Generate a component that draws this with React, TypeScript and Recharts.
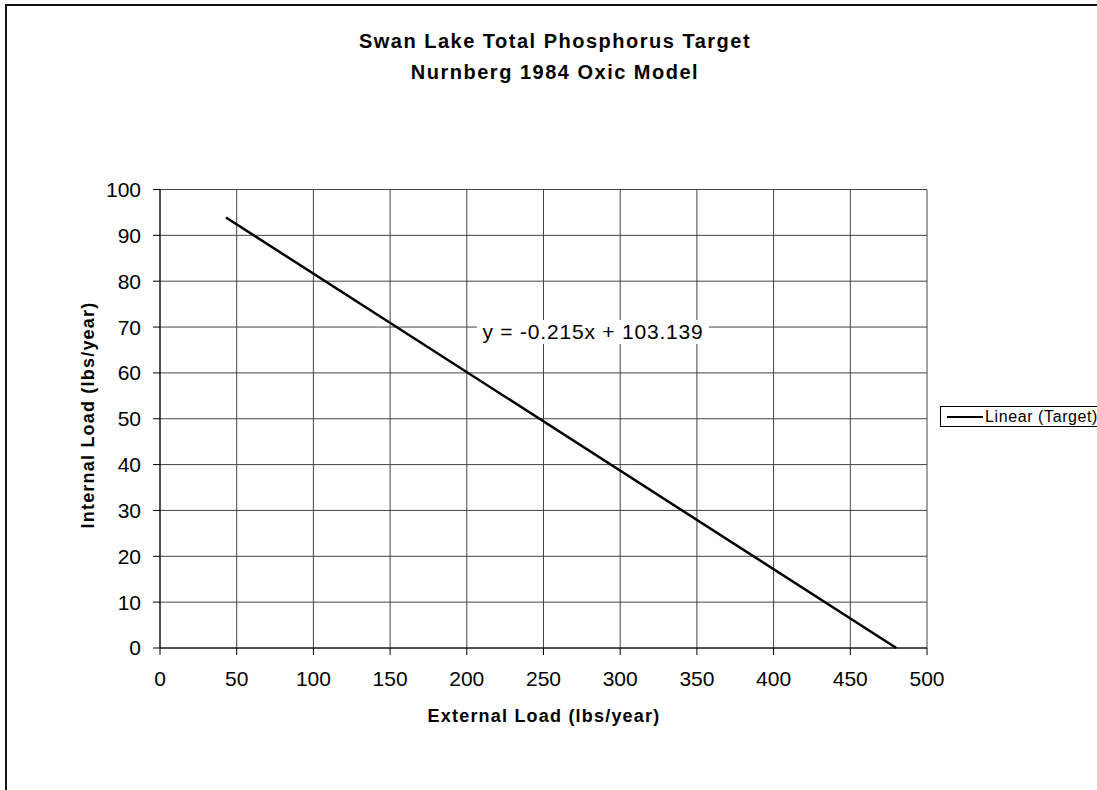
import { LineChart, Line, XAxis, YAxis, CartesianGrid } from "recharts";

const externalLoad = [43, 480];
const internalLoad = [93.9, 0];
const xTicks = [0, 50, 100, 150, 200, 250, 300, 350, 400, 450, 500];
const yTicks = [0, 10, 20, 30, 40, 50, 60, 70, 80, 90, 100];

const TITLE = ["Swan Lake Total Phosphorus Target", "Nurnberg 1984 Oxic Model"];
const EQUATION = "y = -0.215x + 103.139";
const SERIES_NAME = "Linear (Target)";

const data = externalLoad.map((x, i) => ({ x, y: internalLoad[i] }));

const FONT = "'Liberation Sans', Arial, sans-serif";

const App = () => {
    return (
        <div
            style={{
                position: "absolute",
                left: 0,
                top: 0,
                width: 1097,
                height: 790,
                overflow: "hidden",
                background: "#fff",
                fontFamily: FONT,
            }}
        >
            <div
                style={{
                    position: "absolute",
                    left: 5,
                    top: 4,
                    width: 1090,
                    height: 800,
                    borderTop: "2px solid #111",
                    borderLeft: "2px solid #111",
                }}
            />
            <LineChart
                width={1097}
                height={790}
                data={data}
                margin={{ top: 189.5, right: 170, bottom: 112, left: 100 }}
            >
                <CartesianGrid stroke="#444" strokeWidth={1} />
                <XAxis
                    dataKey="x"
                    type="number"
                    domain={[0, 500]}
                    ticks={xTicks}
                    height={30}
                    stroke="#000"
                    tickSize={7}
                    tickMargin={16}
                    tick={{ fill: "#000", fontSize: 21, fontFamily: FONT }}
                    interval={0}
                />
                <YAxis
                    type="number"
                    domain={[0, 100]}
                    ticks={yTicks}
                    width={60}
                    stroke="#000"
                    tickSize={7}
                    tickMargin={12}
                    tick={{ fill: "#000", fontSize: 21, fontFamily: FONT }}
                    interval={0}
                />
                <Line
                    dataKey="y"
                    type="linear"
                    stroke="#000"
                    strokeWidth={2.5}
                    dot={false}
                    isAnimationActive={false}
                />
            </LineChart>

            {TITLE.map((line, i) => (
                <div
                    key={line}
                    style={{
                        position: "absolute",
                        left: 255,
                        width: 600,
                        top: 30 + i * 31,
                        textAlign: "center",
                        fontWeight: "bold",
                        fontSize: 20,
                        lineHeight: "22px",
                        letterSpacing: 1.5,
                    }}
                >
                    {line}
                </div>
            ))}

            <div
                style={{
                    position: "absolute",
                    left: 344,
                    width: 400,
                    top: 705,
                    textAlign: "center",
                    fontWeight: "bold",
                    fontSize: 18,
                    lineHeight: "22px",
                    letterSpacing: 1.2,
                }}
            >
                External Load (lbs/year)
            </div>
            <div
                style={{
                    position: "absolute",
                    left: 88 - 200,
                    width: 400,
                    top: 415 - 11,
                    textAlign: "center",
                    fontWeight: "bold",
                    fontSize: 18,
                    lineHeight: "22px",
                    letterSpacing: 1.2,
                    transform: "rotate(-90deg)",
                }}
            >
                Internal Load (lbs/year)
            </div>

            <div
                style={{
                    position: "absolute",
                    left: 477,
                    top: 320,
                    width: 232,
                    height: 24,
                    background: "#fff",
                    textAlign: "center",
                    fontSize: 21,
                    lineHeight: "24px",
                    letterSpacing: 0.8,
                    whiteSpace: "nowrap",
                }}
            >
                {EQUATION}
            </div>

            <div
                style={{
                    position: "absolute",
                    left: 940,
                    top: 406,
                    width: 170,
                    height: 19,
                    border: "1px solid #000",
                    display: "flex",
                    alignItems: "center",
                    whiteSpace: "nowrap",
                    fontSize: 16,
                    letterSpacing: 0.6,
                }}
            >
                <span
                    style={{
                        display: "inline-block",
                        width: 36,
                        height: 2,
                        background: "#000",
                        marginLeft: 6,
                        marginRight: 2,
                    }}
                />
                <span>{SERIES_NAME}</span>
            </div>
        </div>
    );
};

export default App;
